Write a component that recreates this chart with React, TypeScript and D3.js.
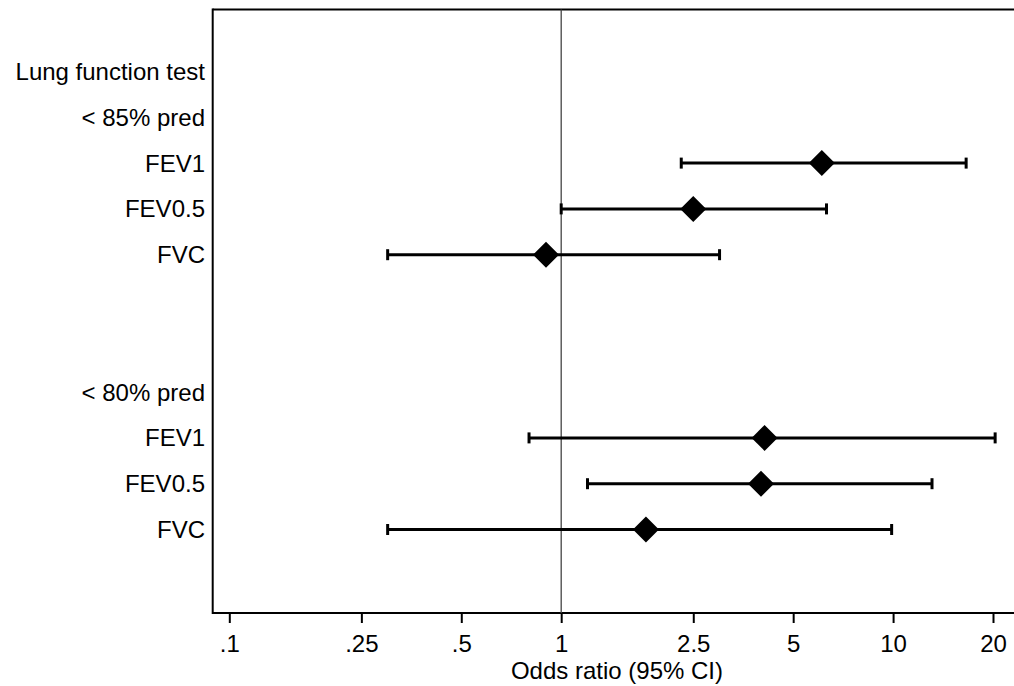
import React, { useEffect, useRef } from "react";
import { select, scaleLog, scaleLinear, axisBottom } from "d3";

// rows of the forest plot (index = row position from top)
const rowLabels = [
  "Lung function test",
  "< 85% pred",
  "FEV1",
  "FEV0.5",
  "FVC",
  "",
  "",
  "< 80% pred",
  "FEV1",
  "FEV0.5",
  "FVC",
];
const estRows = [2, 3, 4, 8, 9, 10];
const oddsRatio = [6.1, 2.5, 0.9, 4.1, 4.0, 1.8];
const ciLow = [2.3, 1.0, 0.3, 0.8, 1.2, 0.3];
const ciHigh = [16.6, 6.3, 3.0, 20.3, 13.1, 9.9];
const tickVals = [0.1, 0.25, 0.5, 1, 2.5, 5, 10, 20];
const tickLabels = [".1", ".25", ".5", "1", "2.5", "5", "10", "20"];

const W = 1014;
const H = 686;
const FONT = "'Liberation Sans', Arial, sans-serif";
const FS = 24;

const App = () => {
  const svgRef = useRef<SVGSVGElement>(null);

  useEffect(() => {
    const svg = select(svgRef.current);
    svg.selectAll("*").remove();

    const left = 212.7;
    const top = 9.5;
    const bottom = 613;

    const x = scaleLog().domain([0.1, 20]).range([229.3, 993]);
    const y = scaleLinear().domain([0, 10]).range([71.5, 529.5]);

    // frame
    svg.append("line").attr("x1", left).attr("x2", left).attr("y1", top - 1).attr("y2", bottom + 1)
      .attr("stroke", "#000").attr("stroke-width", 2);
    svg.append("line").attr("x1", left).attr("x2", W).attr("y1", top).attr("y2", top)
      .attr("stroke", "#000").attr("stroke-width", 2);
    svg.append("line").attr("x1", left).attr("x2", W).attr("y1", bottom).attr("y2", bottom)
      .attr("stroke", "#000").attr("stroke-width", 2);

    // null line at OR = 1
    svg.append("line").attr("x1", x(1)).attr("x2", x(1)).attr("y1", top).attr("y2", bottom)
      .attr("stroke", "#444").attr("stroke-width", 1.3);

    // x axis
    const xAxis = axisBottom(x)
      .tickValues(tickVals)
      .tickFormat((d, i) => tickLabels[i])
      .tickSize(10)
      .tickSizeOuter(0)
      .tickPadding(12);
    const ax = svg.append("g").attr("transform", `translate(0,${bottom})`).call(xAxis);
    ax.select(".domain").remove();
    ax.selectAll(".tick line").attr("stroke", "#000").attr("stroke-width", 2);
    ax.selectAll(".tick text").attr("fill", "#000").style("font", `${FS}px ${FONT}`);

    svg.append("text")
      .attr("x", 617).attr("y", 679)
      .attr("text-anchor", "middle")
      .style("font", `${FS}px ${FONT}`)
      .text("Odds ratio (95% CI)");

    // row labels
    svg.selectAll(".rowlab")
      .data(rowLabels)
      .join("text")
      .attr("class", "rowlab")
      .attr("x", 205)
      .attr("y", (d, i) => y(i) + 8.5)
      .attr("text-anchor", "end")
      .style("font", `${FS}px ${FONT}`)
      .text((d) => d);

    // CI lines
    const g = svg.append("g");
    g.selectAll(".ci")
      .data(estRows)
      .join("line")
      .attr("class", "ci")
      .attr("x1", (d, i) => x(ciLow[i]))
      .attr("x2", (d, i) => x(ciHigh[i]))
      .attr("y1", (d) => y(d))
      .attr("y2", (d) => y(d))
      .attr("stroke", "#000")
      .attr("stroke-width", 3);
    g.selectAll(".capl")
      .data(estRows)
      .join("line")
      .attr("class", "capl")
      .attr("x1", (d, i) => x(ciLow[i]))
      .attr("x2", (d, i) => x(ciLow[i]))
      .attr("y1", (d) => y(d) - 5.5)
      .attr("y2", (d) => y(d) + 5.5)
      .attr("stroke", "#000")
      .attr("stroke-width", 3);
    g.selectAll(".caph")
      .data(estRows)
      .join("line")
      .attr("class", "caph")
      .attr("x1", (d, i) => x(ciHigh[i]))
      .attr("x2", (d, i) => x(ciHigh[i]))
      .attr("y1", (d) => y(d) - 5.5)
      .attr("y2", (d) => y(d) + 5.5)
      .attr("stroke", "#000")
      .attr("stroke-width", 3);

    // point estimates
    const r = 13;
    g.selectAll(".pt")
      .data(estRows)
      .join("path")
      .attr("class", "pt")
      .attr("d", (d, i) => {
        const cx = x(oddsRatio[i]);
        const cy = y(d);
        return `M${cx},${cy - r}L${cx + r},${cy}L${cx},${cy + r}L${cx - r},${cy}Z`;
      })
      .attr("fill", "#000");
  }, []);

  return (
    <svg
      ref={svgRef}
      width={W}
      height={H}
      style={{ position: "absolute", left: 0, top: 0, background: "#fff" }}
    />
  );
};

export default App;
